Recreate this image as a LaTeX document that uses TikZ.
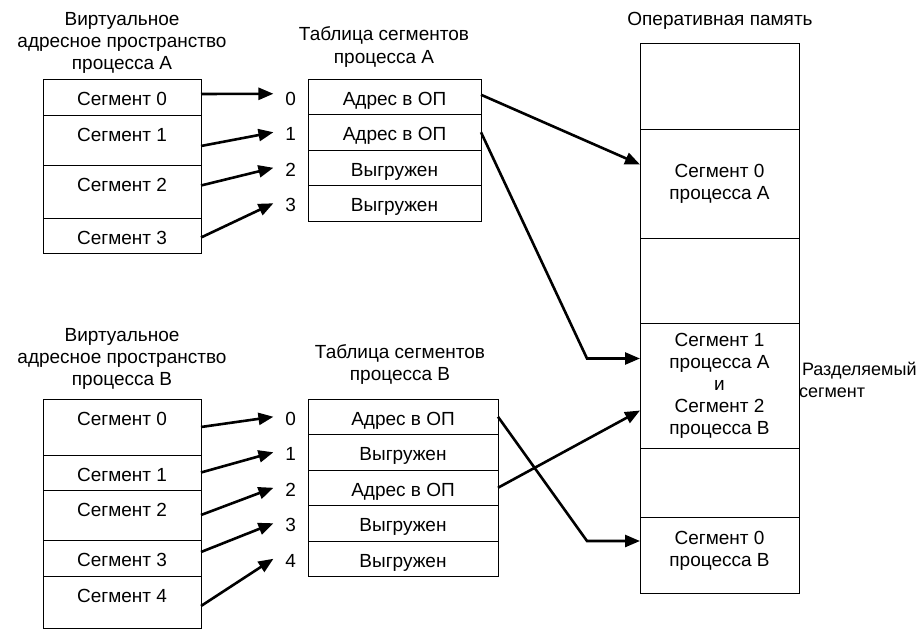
\documentclass[tikz,border=0pt]{standalone}
\usepackage{fontspec}
\setmainfont{Liberation Sans}
\usetikzlibrary{arrows.meta,positioning}

\begin{document}
\begin{tikzpicture}
		[x=1pt, y=-1pt, font=\fontsize{19}{22}\selectfont, inner sep=0pt, outer sep=0pt,
		vseg/.style		= {draw, rectangle, line width=1pt, minimum width=158pt, text height=26pt, text depth=#1},
		tseg/.style		= {draw, rectangle, line width=1pt, minimum width=#1, minimum height=35.5pt, text height=18pt, text depth=1.4pt},
		idx/.style		= {text height=18pt, text depth=1.4pt},
		mseg/.style		= {draw, rectangle, line width=1pt, minimum width=159pt, minimum height=#1, align=center},
		heading/.style	= {align=center},
		ptr/.style		= {line width=2.6pt, -{Triangle[length=15pt,width=12pt]}}]
		
		\useasboundingbox (0,0) rectangle (922,638);
		
		\node [heading]	at (122,43)		(hva)	{Виртуальное\\адресное пространство\\процесса А};
		\node [heading]	at (384,47)		(hta)	{Таблица сегментов\\процесса А};
		\node [heading]	at (122,359)	(hvb)	{Виртуальное\\адресное пространство\\процесса В};
		\node [heading]	at (400,364)	(htb)	{Таблица сегментов\\процесса В};
		\node [heading]	at (720,21)		(hmem)	{Оперативная память};
		
		\node [vseg=10pt, anchor=north west] at (43,79)	(va0)	{Сегмент 0};
		\node [vseg=24pt]	[below = 0pt of va0]		(va1)	{Сегмент 1};
		\node [vseg=27pt]	[below = 0pt of va1]		(va2)	{Сегмент 2};
		\node [vseg=9pt]	[below = 0pt of va2]		(va3)	{Сегмент 3};
		
		\node [tseg=173pt, anchor=north west] at (308,79)	(ta0)	{Адрес в ОП};
		\node [tseg=173pt]	[below = 0pt of ta0]	(ta1)	{Адрес в ОП};
		\node [tseg=173pt]	[below = 0pt of ta1]	(ta2)	{Выгружен};
		\node [tseg=173pt]	[below = 0pt of ta2]	(ta3)	{Выгружен};
		
		\node [idx, left = 12pt of ta0]	(ia0)	{0};
		\node [idx, left = 12pt of ta1]	(ia1)	{1};
		\node [idx, left = 12pt of ta2]	(ia2)	{2};
		\node [idx, left = 12pt of ta3]	(ia3)	{3};
		
		\node [vseg=30pt, anchor=north west] at (43,399)	(vb0)	{Сегмент 0};
		\node [vseg=9pt]	[below = 0pt of vb0]		(vb1)	{Сегмент 1};
		\node [vseg=24pt]	[below = 0pt of vb1]		(vb2)	{Сегмент 2};
		\node [vseg=10pt]	[below = 0pt of vb2]		(vb3)	{Сегмент 3};
		\node [vseg=26pt]	[below = 0pt of vb3]		(vb4)	{Сегмент 4};
		
		\node [tseg=190pt, anchor=north west] at (308,399)	(tb0)	{Адрес в ОП};
		\node [tseg=190pt]	[below = 0pt of tb0]	(tb1)	{Выгружен};
		\node [tseg=190pt]	[below = 0pt of tb1]	(tb2)	{Адрес в ОП};
		\node [tseg=190pt]	[below = 0pt of tb2]	(tb3)	{Выгружен};
		\node [tseg=190pt]	[below = 0pt of tb3]	(tb4)	{Выгружен};
		
		\node [idx, left = 12pt of tb0]	(ib0)	{0};
		\node [idx, left = 12pt of tb1]	(ib1)	{1};
		\node [idx, left = 12pt of tb2]	(ib2)	{2};
		\node [idx, left = 12pt of tb3]	(ib3)	{3};
		\node [idx, left = 12pt of tb4]	(ib4)	{4};
		
		\node [mseg=86pt, anchor=north west] at (640,43)	(m0)	{};
		\node [mseg=109pt]	[below = 0pt of m0]	(m1)	{Сегмент 0\\процесса А};
		\node [mseg=85pt]	[below = 0pt of m1]	(m2)	{};
		\node [mseg=125pt]	[below = 0pt of m2]	(m3)	{Сегмент 1\\процесса А\\и\\Сегмент 2\\процесса В};
		\node [mseg=69pt]	[below = 0pt of m3]	(m4)	{};
		\node [mseg=76pt]	[below = 0pt of m4]	(m5)	{Сегмент 0\\процесса В\\[-10pt]};
		
		\node [anchor=west, align=left, font=\fontsize{18}{22}\selectfont] at (799,380)	(shared)	{\hspace*{3pt}Разделяемый\\сегмент};
		
		\draw [ptr] ([yshift=3pt]va0.east)		-- ([xshift=-12pt,yshift=3pt]ia0.west);
		\draw [ptr] ([yshift=-6pt]va1.east)		-- ([xshift=-12pt]ia1.west);
		\draw [ptr] ([yshift=6pt]va2.east)		-- ([xshift=-12pt]ia2.west);
		\draw [ptr] ([yshift=-2pt]va3.east)		-- ([xshift=-12pt]ia3.west);
		
		\draw [ptr] (vb0.east)					-- ([xshift=-12pt]ib0.west);
		\draw [ptr] (vb1.east)					-- ([xshift=-12pt]ib1.west);
		\draw [ptr] (vb2.east)					-- ([xshift=-12pt]ib2.west);
		\draw [ptr] ([yshift=6pt]vb3.east)		-- ([xshift=-12pt]ib3.west);
		\draw [ptr] ([yshift=-4pt]vb4.east)		-- ([xshift=-12pt]ib4.west);
		
		\coordinate (sa) at ([yshift=27pt]m3.west);
		\coordinate (sb) at ([yshift=14pt]m5.west);
		
		\draw [ptr] ([yshift=2pt]ta0.east)		-- ([yshift=19pt]m1.west);
		\draw [ptr] (ta1.east)					-- ([xshift=-53pt]sa) -- (sa);
		\draw [ptr] (tb0.east)					-- ([xshift=-53pt]sb) -- (sb);
		\draw [ptr] (tb2.east)					-- ([yshift=-25pt]m3.west);
		\end{tikzpicture}
\end{document}
